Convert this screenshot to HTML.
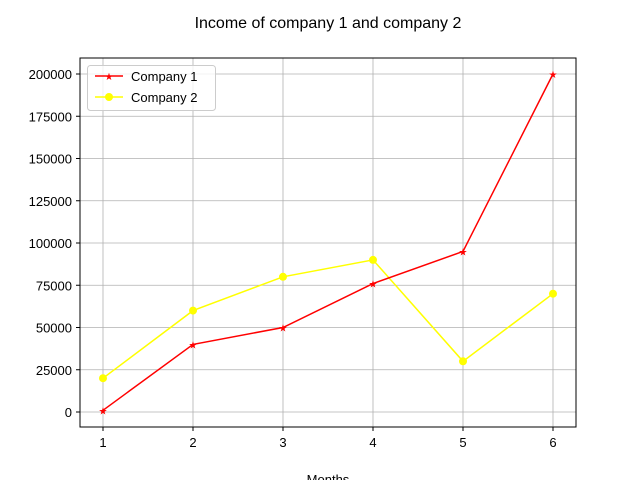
<!DOCTYPE html>
<html><head><meta charset="utf-8"><style>
body{margin:0;background:#fff;}
svg{font-family:"Liberation Sans","DejaVu Sans",sans-serif;}
</style></head><body>
<svg id="chart" width="640" height="480">
<text x="328" y="28" text-anchor="middle" font-size="16">Income of company 1 and company 2</text>
<g id="grid"></g>
<g id="ticks"></g>
<g id="series"></g>
<rect x="80" y="58" width="496" height="369" fill="none" stroke="#000" stroke-width="1"/>
<text x="328" y="484" text-anchor="middle" font-size="13">Months</text>
<g>
<rect x="87.5" y="65.5" width="128" height="45" rx="3" fill="#fff" fill-opacity="0.8" stroke="#ccc"/>
<line x1="95" y1="76" x2="123" y2="76" stroke="red" stroke-width="1.5"/>
<text x="109" y="80" text-anchor="middle" font-size="10" fill="red">★</text>
<text x="131" y="81" font-size="13">Company 1</text>
<line x1="95" y1="97" x2="123" y2="97" stroke="#ffff00" stroke-width="1.5"/>
<circle cx="109" cy="97" r="4" fill="#ffff00"/>
<text x="131" y="102" font-size="13">Company 2</text>
</g>
</svg>
<script>
const months = [1, 2, 3, 4, 5, 6];
const company1 = [1000, 40000, 50000, 76000, 95000, 200000];
const company2 = [20000, 60000, 80000, 90000, 30000, 70000];
const yTicks = [0, 25000, 50000, 75000, 100000, 125000, 150000, 175000, 200000];
const NS = "http://www.w3.org/2000/svg";
const xS = v => 103 + (v - 1) * 90;
const yS = v => 412 - v * 338 / 200000;
function mk(tag, attrs, parent) {
  const e = document.createElementNS(NS, tag);
  for (const k in attrs) e.setAttribute(k, attrs[k]);
  document.getElementById(parent).appendChild(e);
  return e;
}
months.forEach(m => {
  const g = mk("line", {x1: xS(m), x2: xS(m), y1: 58, y2: 427, stroke: "#b0b0b0", "stroke-width": 0.8}, "grid");
  
  
  const t = mk("line", {x1: xS(m), x2: xS(m), y1: 427, y2: 431, stroke: "#000"}, "ticks");
  
  
  const l = mk("text", {x: xS(m), y: 447, "text-anchor": "middle", "font-size": 13}, "ticks");
  l.textContent = m;
  
  
});
yTicks.forEach(v => {
  const g = mk("line", {x1: 80, x2: 576, y1: yS(v), y2: yS(v), stroke: "#b0b0b0", "stroke-width": 0.8}, "grid");
  
  
  const t = mk("line", {x1: 76, x2: 80, y1: yS(v), y2: yS(v), stroke: "#000"}, "ticks");
  
  
  const l = mk("text", {x: 72, y: yS(v) + 5, "text-anchor": "end", "font-size": 13}, "ticks");
  l.textContent = v;
  
  
});
function drawSeries(vals, color, star, name) {
  const p = mk("polyline", {points: vals.map((v, i) => xS(months[i]) + "," + yS(v)).join(" "), fill: "none", stroke: color, "stroke-width": 1.5}, "series");
  
  
  vals.forEach((v, i) => {
    let m;
    if (star) {
      m = mk("text", {x: xS(months[i]), y: yS(v) + 4, "text-anchor": "middle", "font-size": 10, fill: color}, "series");
      m.textContent = "★";
    } else {
      m = mk("circle", {cx: xS(months[i]), cy: yS(v), r: 4, fill: color}, "series");
    }
    
    
  });
}
drawSeries(company2, "#ffff00", false, "company-2");
drawSeries(company1, "red", true, "company-1");
</script>
</body></html>
